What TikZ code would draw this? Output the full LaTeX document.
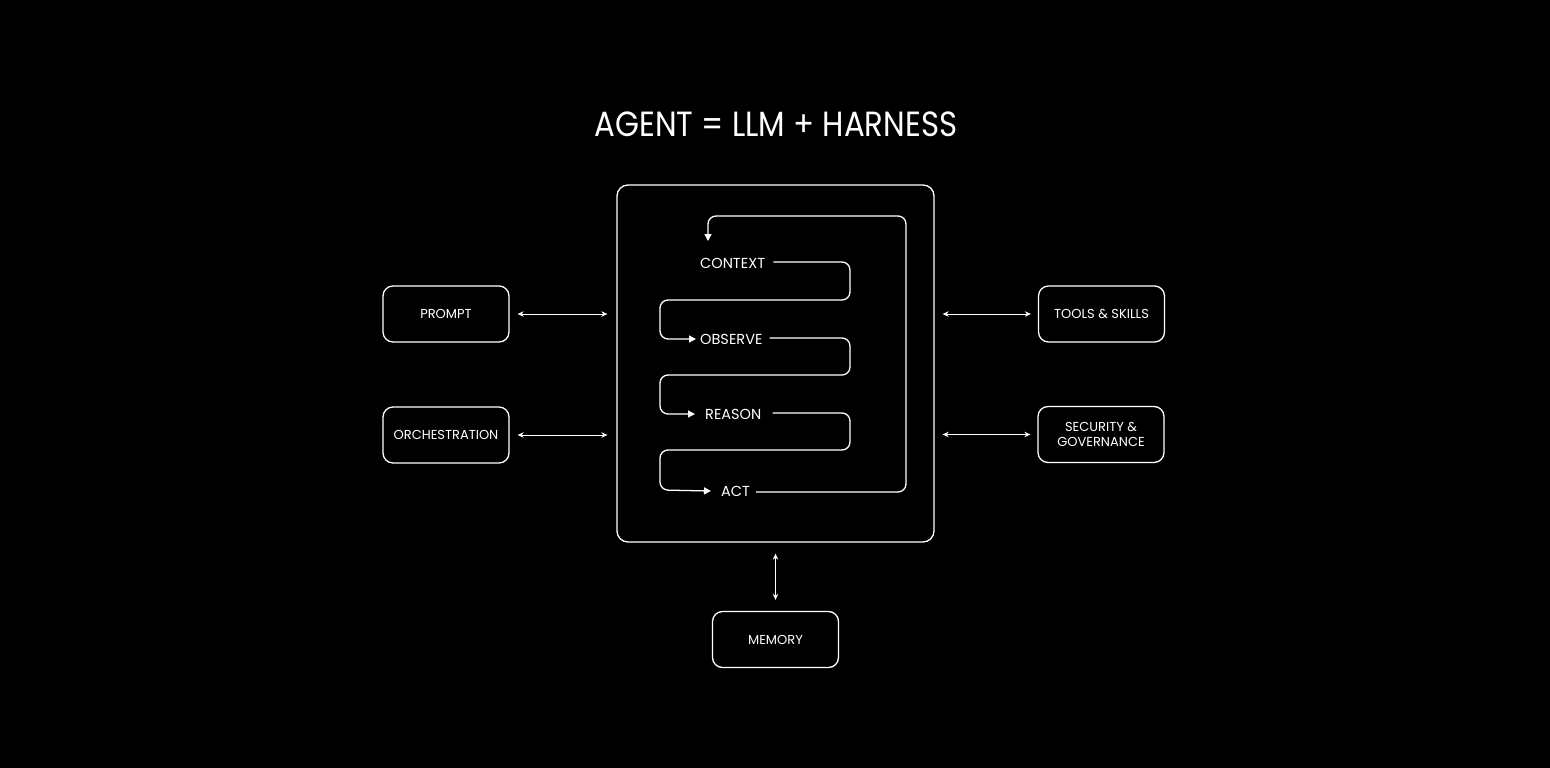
\documentclass[tikz,border=0pt]{standalone}
\usepackage{fontspec}
\setmainfont{Poppins}
\usetikzlibrary{arrows.meta,calc}
\begin{document}
\begin{tikzpicture}[x=1pt,y=-1pt,
  line/.style={draw=white,line width=1.3pt},
  sidebox/.style={line,rounded corners=10pt,minimum width=126pt,minimum height=56pt,
    text=white,font=\fontsize{13}{15}\selectfont,align=center,inner sep=2pt},
  lbl/.style={text=white,font=\fontsize{14.5}{16}\selectfont,inner sep=0pt,anchor=west},
  dbl/.style={draw=white,line width=1pt,{Stealth[length=6pt,width=5.5pt]}-{Stealth[length=6pt,width=5.5pt]}},
  snake/.style={draw=white,line width=1.3pt,rounded corners=8pt,-{Triangle[length=7pt,width=7pt]}}]
\fill[black] (0,0) rectangle (1550,768);
\useasboundingbox (0,0) rectangle (1550,768);

\node[text=white,font=\fontsize{35}{40}\selectfont,inner sep=0pt] (title) at (776,124) {\scalebox{0.88}[1]{AGENT = LLM + HARNESS}};

\node[line,rounded corners=11pt,minimum width=317pt,minimum height=357pt] (main) at (775.5,363.5) {};

\node[sidebox] (prompt) at (446,314) {PROMPT};
\node[sidebox] (orch) at (446,435) {ORCHESTRATION};
\node[sidebox] (tools) at (1101.5,314) {TOOLS \& SKILLS};
\node[sidebox] (sec) at (1101,434.5) {SECURITY \&\\GOVERNANCE};
\node[sidebox] (mem) at (775.5,639.5) {MEMORY};

\draw[dbl,shorten <=8pt,shorten >=9pt] (prompt.east) -- (prompt.east -| main.west);
\draw[dbl,shorten <=8pt,shorten >=9pt] (orch.east) -- (orch.east -| main.west);
\draw[dbl,shorten <=8pt,shorten >=7pt] (main.east |- tools.west) -- (tools.west);
\draw[dbl,shorten <=8pt,shorten >=7pt] (main.east |- sec.west) -- (sec.west);
\draw[dbl,shorten <=11pt,shorten >=11pt] (main.south) -- (mem.north);

\node[lbl] (ctx) at (700,263) {CONTEXT};
\node[lbl] (obs) at (700,339) {OBSERVE};
\node[lbl] (rea) at (705,414) {REASON};
\node[lbl] (act) at (721,491) {ACT};

\draw[snake] ($(ctx.east)+(8,-1)$) -- (850,262) -- (850,300) -- (660,300) -- (660,339) -- ($(obs.west)+(-4,0)$);
\draw[snake] ($(obs.east)+(7,-1)$) -- (850,338) -- (850,375) -- (660,375) -- (660,414) -- ($(rea.west)+(-10,0)$);
\draw[snake] ($(rea.east)+(11,-1)$) -- (850,413) -- (850,450) -- (660,450) -- (660,490) -- ($(act.west)+(-10,0)$);
\draw[snake] ($(act.east)+(6,1)$) -- (906,492) -- (906,216) -- (708,216) -- (708,241);
\end{tikzpicture}
\end{document}
